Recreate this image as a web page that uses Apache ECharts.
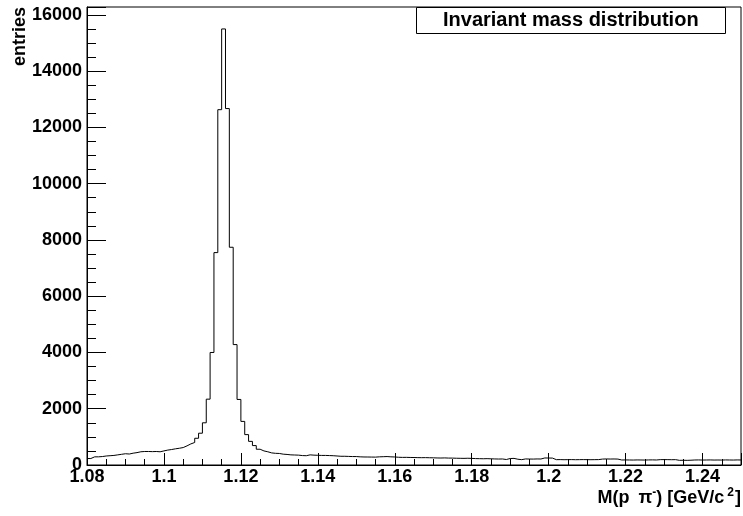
<!DOCTYPE html>
<html><head><meta charset="utf-8">
<script src="https://cdn.jsdelivr.net/npm/echarts@6/dist/echarts.min.js"></script>
<style>html,body{margin:0;padding:0;background:#fff}#c{width:743px;height:516px}</style>
</head><body><div id="c"></div>
<script>
// Histogram: lower edge of first bin, bin width, and bin contents (170 bins, 1.080 .. 1.250)
const binLow = 1.08;
const binWidth = 0.001;
const counts = [
  230, 290, 290, 300, 320, 330, 340, 360, 380, 400,
  390, 420, 440, 470, 480, 480, 475, 480, 470, 500,
  530, 550, 575, 595, 620, 680, 750, 800, 950, 1130,
  1500, 2340, 4000, 7550, 12630, 15500, 12670, 7740, 4280, 2330,
  1550, 1080, 840, 690, 560, 500, 470, 430, 415, 410,
  385, 375, 360, 355, 350, 335, 330, 360, 350, 345,
  340, 340, 335, 330, 320, 310, 310, 305, 300, 300,
  290, 285, 284, 282, 280, 290, 295, 300, 290, 285,
  275, 270, 272, 268, 265, 262, 260, 262, 258, 255,
  250, 248, 252, 246, 245, 240, 238, 236, 240, 235,
  228, 225, 222, 226, 220, 215, 212, 214, 195, 230,
  235, 205, 190, 215, 212, 210, 215, 213, 250, 248,
  245, 190, 192, 188, 190, 192, 188, 190, 192, 190,
  188, 190, 192, 210, 215, 212, 214, 210, 178, 180,
  178, 176, 180, 178, 176, 180, 182, 178, 190, 192,
  190, 188, 190, 166, 168, 165, 170, 178, 180, 176,
  178, 180, 176, 178, 175, 180, 178, 176, 180, 178
];
const xRange = [1.08, 1.25];
const yRange = [0, 16280];
const xMajor = 0.02, xMinor = 0.005;
const yMajor = 2000, yMinor = 500;
const titleText = 'Invariant mass distribution';
const yTitle = 'entries';

const pts = counts.map((v, i) => [+(binLow + i * binWidth).toFixed(4), v]);
pts.push([+(binLow + counts.length * binWidth).toFixed(4), counts[counts.length - 1]]);

const FF = '"Liberation Sans", Arial, Helvetica, sans-serif';
const isMult = (v, step) => Math.abs(v - Math.round(v / step) * step) < step * 1e-4;

const chart = echarts.init(document.getElementById('c'), null, {renderer: 'canvas'});
chart.setOption({
  animation: false,
  backgroundColor: '#fff',
  title: {
    text: titleText, left: 416, top: 7,
    padding: [3, 27, 3, 27],
    borderColor: '#000', borderWidth: 1, backgroundColor: '#fff',
    textStyle: {fontSize: 20, fontWeight: 'bold', color: '#000', fontFamily: FF, lineHeight: 21}
  },
  grid: {left: 87, right: 2, top: 7, bottom: 51, containLabel: false, outerBoundsMode: 'none',
    show: true, borderColor: '#000', borderWidth: 1, backgroundColor: '#fff'},
  xAxis: [{
    type: 'value', min: xRange[0], max: xRange[1], interval: xMajor, position: 'bottom',
    axisLine: {show: true, onZero: false, lineStyle: {color: '#000', width: 1}},
    axisTick: {show: true, inside: true, length: 12, lineStyle: {color: '#000'}},
    axisLabel: {fontSize: 18, fontWeight: 'bold', color: '#000', fontFamily: FF, margin: 3,
      formatter: v => isMult(v, xMajor) ? String(+v.toFixed(2)) : ''},
    splitLine: {show: false},
    name: '{a|M(p }{g|π}{m|-}{a|) [GeV/c}{s|2}{a|]}',
    nameLocation: 'end', nameGap: 0, nameMoveOverlap: false,
    nameTextStyle: {align: 'right', verticalAlign: 'top', padding: [22, 0, 0, 0],
      rich: {
        a: {fontSize: 18, fontWeight: 'bold', color: '#000', fontFamily: FF, lineHeight: 22},
        g: {fontSize: 18, fontWeight: 'bold', color: '#000', fontFamily: FF, lineHeight: 22, padding: [0, 0, 0, 4]},
        m: {fontSize: 12, fontWeight: 'bold', color: '#000', fontFamily: FF, lineHeight: 12, verticalAlign: 'top', padding: [0, 0, 0, 0]},
        s: {fontSize: 12, fontWeight: 'bold', color: '#000', fontFamily: FF, lineHeight: 12, verticalAlign: 'top', padding: [0, 1, 0, 3]}
      }}
  }, {
    type: 'value', min: xRange[0], max: xRange[1], interval: xMinor, position: 'bottom',
    axisLine: {show: false}, axisLabel: {show: false}, splitLine: {show: false},
    axisTick: {show: true, inside: true, length: 6, lineStyle: {color: '#000'}}
  }],
  yAxis: [{
    type: 'value', min: yRange[0], max: yRange[1], interval: yMajor, position: 'left',
    axisLine: {show: true, onZero: false, lineStyle: {color: '#000', width: 1}},
    axisTick: {show: true, inside: true, length: 19, lineStyle: {color: '#000'}},
    axisLabel: {fontSize: 18, fontWeight: 'bold', color: '#000', fontFamily: FF, margin: 5,
      formatter: v => isMult(v, yMajor) ? String(Math.round(v)) : ''},
    splitLine: {show: false},
    name: yTitle, nameLocation: 'end', nameGap: 0, nameRotate: 90, nameMoveOverlap: false,
    nameTextStyle: {fontSize: 18, fontWeight: 'bold', color: '#000', fontFamily: FF,
      align: 'right', verticalAlign: 'bottom', padding: [0, 0, 58, 0]}
  }, {
    type: 'value', min: yRange[0], max: yRange[1], interval: yMinor, position: 'left',
    axisLine: {show: false}, axisLabel: {show: false}, splitLine: {show: false},
    axisTick: {show: true, inside: true, length: 9, lineStyle: {color: '#000'}}
  }],
  series: [{
    type: 'line', step: 'end', symbol: 'none', data: pts,
    xAxisIndex: 0, yAxisIndex: 0,
    lineStyle: {color: '#000', width: 1}
  }]
});
</script></body></html>
